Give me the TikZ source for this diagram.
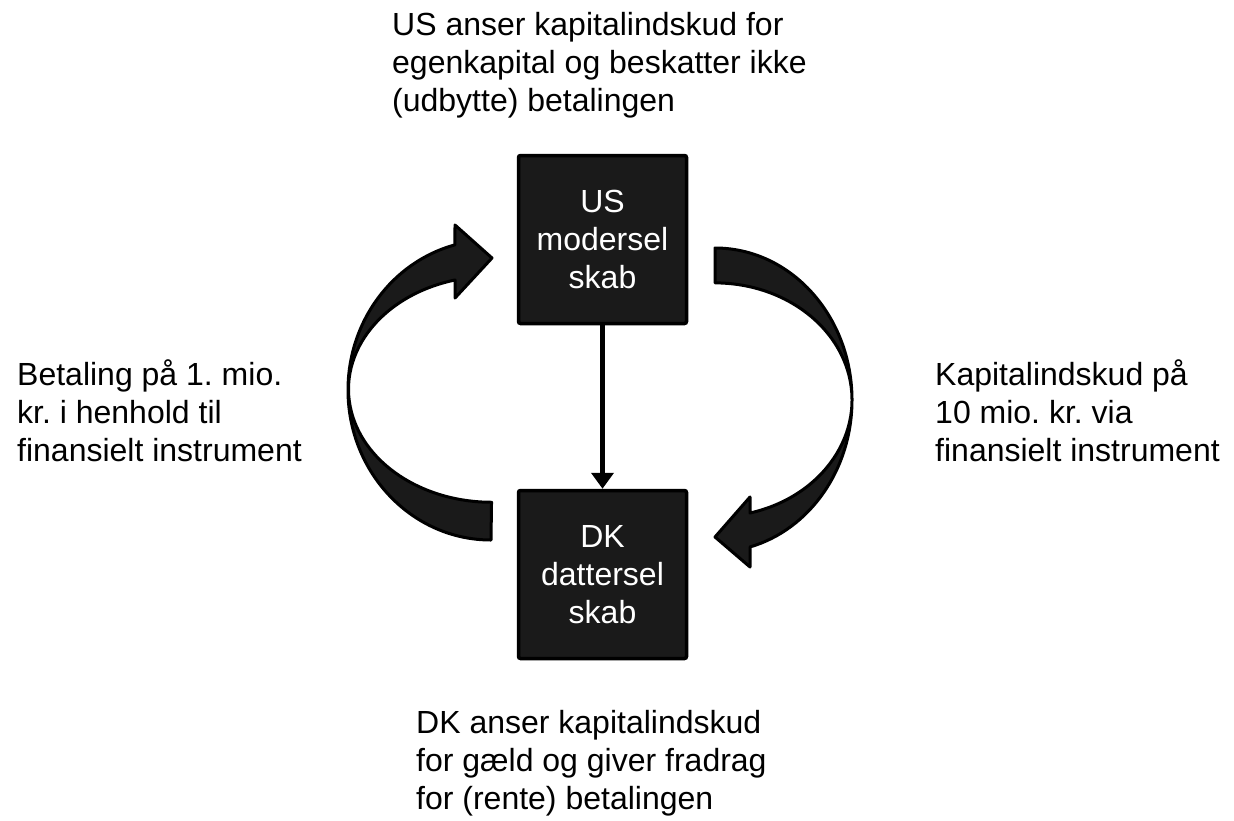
\documentclass[tikz,border=0pt]{standalone}
\usepackage{fontspec}
\setmainfont{Liberation Sans}
\usepackage{tikz}
\usetikzlibrary{arrows.meta}
\frenchspacing
\definecolor{boksfarve}{RGB}{26,26,26}
\tikzset{boks/.style={rectangle,draw=black,fill=boksfarve,line width=3.5pt,rounded corners=2pt,minimum width=168pt,minimum height=168pt,text=white,align=center,font=\fontsize{32}{38}\selectfont}}
\tikzset{tekst/.style={anchor=north west,align=left,inner sep=0pt,font=\fontsize{32}{38}\selectfont}}
\tikzset{pil/.style={draw=black,fill=boksfarve,line width=3pt,line join=round}}
\tikzset{forbind/.style={draw=black,line width=5pt,-{Triangle[length=16pt,width=22pt]}}}

\begin{document}
\begin{tikzpicture}[x=1pt,y=-1pt]
\useasboundingbox (0,0) rectangle (1234,820);

\node [boks] at (602.5,239.5) (us) {US\\modersel\\skab};
\node [boks] at (602.5,574.5) (dk) {DK\\dattersel\\skab};
\draw [forbind] (us) -- (dk);

% buede pile
\filldraw [pil] (491,540) arc[start angle=90,end angle=255.4,x radius=143,y radius=150]
	-- (455,225) -- (492,258) -- (455,298) -- (455,280)
	arc[start angle=255.2,end angle=90,x radius=143,y radius=113] -- cycle;
\filldraw [pil] (715,248) arc[start angle=-90,end angle=75.2,x radius=137,y radius=152]
	-- (750,567) -- (715,537) -- (750,497) -- (750,513)
	arc[start angle=75.2,end angle=-90,x radius=137,y radius=117] -- cycle;

\node [tekst] at (392,12) (us tekst) {US anser kapitalindskud for\\egenkapital og beskatter ikke\\(udbytte) betalingen};
\node [tekst] at (17,359) (betaling) {Betaling på 1. mio.\\kr. i henhold til\\finansielt instrument};
\node [tekst] at (935,359) (indskud) {Kapitalindskud på\\10 mio. kr. via\\finansielt instrument};
\node [tekst] at (416,710) (dk tekst) {DK anser kapitalindskud\\for gæld og giver fradrag\\for (rente) betalingen};
\end{tikzpicture}
\end{document}
